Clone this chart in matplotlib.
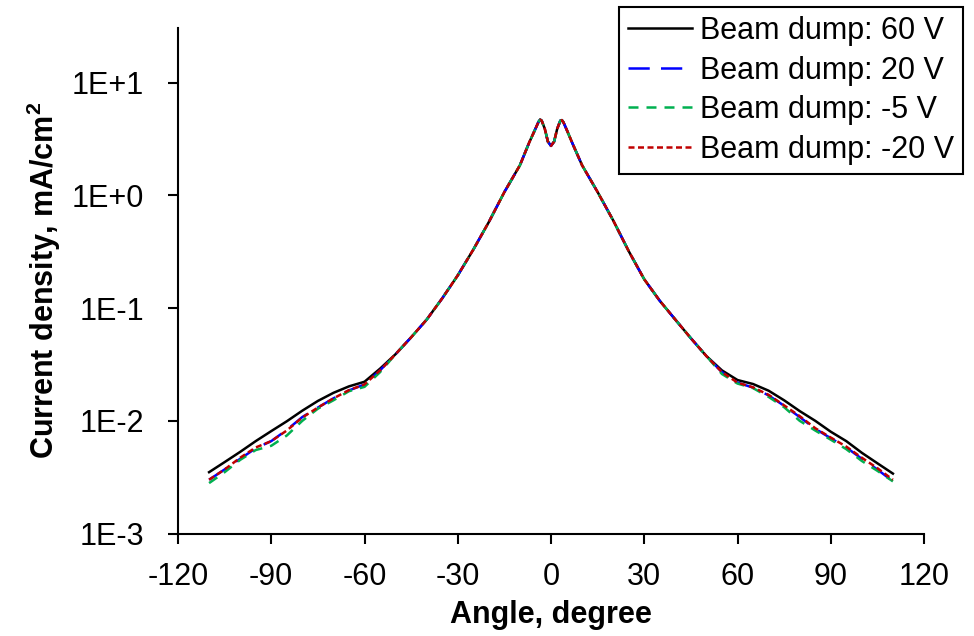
import numpy as np
import matplotlib
matplotlib.use("Agg")
import matplotlib.pyplot as plt
from matplotlib.ticker import FixedLocator, FixedFormatter, NullLocator

plt.rcParams['font.family'] = ['Liberation Sans', 'DejaVu Sans']
plt.rcParams['axes.unicode_minus'] = False
plt.rcParams['mathtext.fontset'] = 'custom'
plt.rcParams['mathtext.rm'] = 'Liberation Sans'
plt.rcParams['mathtext.bf'] = 'Liberation Sans:bold'

# angle grid (degree)
angle = [-110, -105, -100, -95, -90, -85, -80, -75, -70, -65, -60, -55, -50, -45, -40,
         -35, -30, -25, -20, -15, -10, -7, -5, -4, -3.5, -3, -2, -1, 0, 1, 2, 3, 3.5,
         4, 5, 7, 10, 15, 20, 25, 30, 35, 40, 45, 50, 55, 60, 65, 70, 75, 80, 85, 90,
         95, 100, 105, 110]

# shared central part (-50 .. 50)
core = [0.039, 0.055, 0.079, 0.122, 0.195, 0.33, 0.58, 1.07, 1.85, 2.95, 3.9, 4.5, 4.7,
        4.6, 3.9, 3.0, 2.75, 3.0, 3.9, 4.6, 4.65, 4.45, 3.85, 2.85, 1.85, 1.07, 0.6,
        0.32, 0.18, 0.116, 0.079, 0.054, 0.0375]

# current density, mA/cm2
bd_60 = ([0.0035, 0.0043, 0.0053, 0.0066, 0.0081, 0.0099, 0.0123, 0.0150, 0.0177,
          0.0202, 0.0222, 0.029] + core +
         [0.028, 0.023, 0.0212, 0.0185, 0.0152, 0.0122, 0.0100, 0.0080, 0.0066,
          0.0052, 0.0042, 0.0034])
bd_20 = ([0.0030, 0.0037, 0.0046, 0.0057, 0.0066, 0.0083, 0.0108, 0.0131, 0.0158,
          0.0186, 0.0210, 0.028] + core +
         [0.027, 0.0218, 0.0197, 0.0168, 0.0136, 0.0108, 0.0085, 0.0070, 0.0058,
          0.0046, 0.0037, 0.0029])
bd_m5 = ([0.0028, 0.0035, 0.0045, 0.0055, 0.0060, 0.0074, 0.0100, 0.0128, 0.0152,
          0.0183, 0.0200, 0.027] + core +
         [0.026, 0.0214, 0.0195, 0.0163, 0.0132, 0.0100, 0.0082, 0.0068, 0.0056,
          0.0044, 0.0036, 0.0029])
bd_m20 = ([0.0030, 0.0037, 0.0047, 0.0058, 0.0066, 0.0082, 0.0107, 0.0131, 0.0158,
           0.0187, 0.0210, 0.028] + core +
          [0.027, 0.0218, 0.0198, 0.0170, 0.0137, 0.0110, 0.0086, 0.0071, 0.0059,
           0.0047, 0.0038, 0.0030])

fig = plt.figure(figsize=(9.74, 6.36), dpi=100)
ax = fig.add_axes([178/974, 1 - 533.5/636, (924 - 178)/974, (533.5 - 28)/636])

lw = 1.8
ax.plot(angle, bd_60, color='black', lw=lw, label='Beam dump: 60 V')
ax.plot(angle, bd_20, color='#0000FF', lw=lw, dashes=(8.5, 4.5), label='Beam dump: 20 V')
ax.plot(angle, bd_m5, color='#00B050', lw=lw, dashes=(4, 3.2), label='Beam dump: -5 V')
ax.plot(angle, bd_m20, color='#C00000', lw=lw, dashes=(2.4, 1.4), label='Beam dump: -20 V')

ax.set_yscale('log')
ax.set_xlim(-120, 120)
ax.set_ylim(1e-3, 10**1.485)

ax.xaxis.set_major_locator(FixedLocator(range(-120, 121, 30)))
ax.yaxis.set_major_locator(FixedLocator([1e-3, 1e-2, 1e-1, 1, 10]))
ax.yaxis.set_major_formatter(FixedFormatter(['1E-3', '1E-2', '1E-1', '1E+0', '1E+1']))
ax.yaxis.set_minor_locator(NullLocator())

for s in ['top', 'right']:
    ax.spines[s].set_visible(False)
for s in ['left', 'bottom']:
    ax.spines[s].set_linewidth(1.5)

ax.tick_params(axis='both', which='major', direction='out', length=7.5, width=1.5,
               labelsize=22)
ax.tick_params(axis='y', pad=17)
ax.tick_params(axis='x', pad=13)

ax.set_xlabel('Angle, degree', fontsize=22, fontweight='bold', labelpad=6)
ax.set_ylabel(r'Current density, mA/cm$^{\mathbf{2}}$', fontsize=22, fontweight='bold',
              labelpad=6)

leg = ax.legend(loc='upper right', bbox_to_anchor=(963/974, 1 - 7/636),
                bbox_transform=fig.transFigure, fontsize=22, frameon=True,
                fancybox=False, edgecolor='black', framealpha=1,
                labelspacing=0.31, handlelength=2.1, handletextpad=0.25,
                borderpad=0.3, borderaxespad=0)
leg.get_frame().set_linewidth(1.5)

fig.savefig('out.png', dpi=100)
